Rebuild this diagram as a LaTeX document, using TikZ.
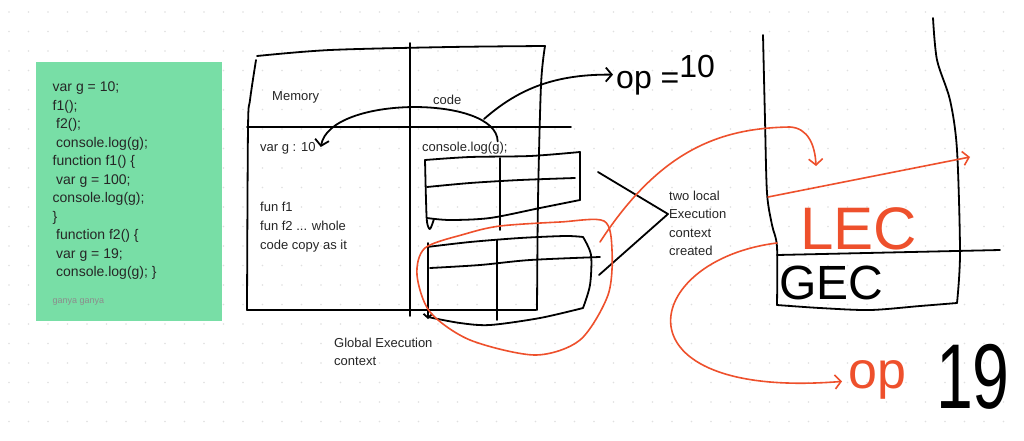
\documentclass[tikz,border=0pt]{standalone}
\usepackage{fontspec}
\setmainfont{Liberation Sans}
\usetikzlibrary{arrows.meta}
\definecolor{notegreen}{RGB}{120,222,166}
\definecolor{pen}{RGB}{238,80,44}

\begin{document}
\begin{tikzpicture}[
    x=1pt, y=-1pt,
    ink/.style={line width=1.8pt, line cap=round, line join=round},
    redink/.style={ink, draw=pen, line width=1.6pt},
    tip/.style={-{Straight Barb[length=6pt,width=14pt]}},
    txt/.style={anchor=base west, inner sep=0pt, font=\fontsize{13}{16}\selectfont, text=black!85},
    codetxt/.style={txt, font=\fontsize{14}{17}\selectfont},
    scrawl/.style={anchor=base west, inner sep=0pt},
]
\useasboundingbox (0,0) rectangle (1024,440);
\fill[white] (0,0) rectangle (1024,440);

% dotted board
\foreach \gx in {9,28.5,...,1020}
  \foreach \gy in {12,31.5,...,436}
    \fill[black!12] (\gx,\gy) circle (0.8pt);

% sticky note
\node[fill=notegreen, anchor=north west, inner sep=0pt, minimum width=186pt, minimum height=259pt] (note) at (36,62) {};
\node[codetxt] (l1) at (52.5,91) {var g = 10;};
\node[codetxt] (l2) at (52.5,110) {f1();};
\node[codetxt] (l3) at (56,128.5) {f2();};
\node[codetxt] (l4) at (56,147) {console.log(g);};
\node[codetxt] (l5) at (52.5,165.5) {function f1() \{};
\node[codetxt] (l6) at (56,184) {var g = 100;};
\node[codetxt] (l7) at (52.5,202.5) {console.log(g);};
\node[codetxt] (l8) at (52.5,221) {\}};
\node[codetxt] (l9) at (56,239.5) {function f2() \{};
\node[codetxt] (l10) at (56,258) {var g = 19;};
\node[codetxt] (l11) at (56,276.5) {console.log(g); \}};
\node[txt, font=\fontsize{9}{11}\selectfont, text=black!45] (owner) at (52.5,303) {ganya ganya};

% global execution context box
\draw[ink] plot[smooth] coordinates {(257,56) (330,50) (450,47) (545,46)};
\draw[ink] plot[smooth] coordinates {(256,60) (250,100) (248,128) (247,310)};
\draw[ink] (247,310) -- (536,310);
\draw[ink] plot[smooth] coordinates {(545,46) (541,85) (538,200) (537,310)};
\draw[ink] (410,43) -- (410,316);
\draw[ink] (247,127) -- (571,127);

\node[txt] (mem) at (272,100) {Memory};
\node[txt] (codelbl) at (433,104) {code};
\node[txt] (varg) at (260,151) {var g : 10};
\node[txt] (logline) at (422,151) {console.log(g);};
\node[txt] (funa) at (260,211) {fun f1};
\node[txt] (funb) at (260,230) {fun f2 ... whole};
\node[txt] (copyall) at (260,249) {code copy as it};
\node[txt] (glob1) at (334,347) {Global Execution};
\node[txt] (glob2) at (334,365) {context};

% first local table
\draw[ink] plot[smooth] coordinates {(425,160) (470,157) (530,156) (580,152)};
\draw[ink] (580,152) -- (580,200);
\draw[ink] plot[smooth] coordinates {(580,200) (540,208) (490,218) (450,220) (427,218)};
\draw[ink] plot[smooth] coordinates {(425,160) (426,200) (427,222) (430,229) (434,219)};
\draw[ink] plot[smooth] coordinates {(427,187) (470,183) (520,180) (575,178)};
\draw[ink] (500,158) -- (500,230);

% second local table
\draw[ink] plot[smooth] coordinates {(427,247) (470,242) (520,238) (565,236) (583,237)};
\draw[ink] plot[smooth] coordinates {(583,237) (591,255) (590,285) (583,308)};
\draw[ink] plot[smooth] coordinates {(583,308) (540,318) (490,325) (460,323) (428,317)};
\draw[ink, -{Straight Barb[length=4pt,width=9pt]}] (428,243) -- (428,319);
\draw[ink] plot[smooth] coordinates {(430,268) (480,265) (530,260) (600,257)};
\draw[ink] (497,240) -- (497,320);

% brace to the note on the right
\coordinate (brtop) at (598,172);
\coordinate (brbot) at (599,275);
\node[txt] (two1) at (669,200) {two local};
\node[txt] (two2) at (669,218) {Execution};
\node[txt] (two3) at (669,237) {context};
\node[txt] (two4) at (669,255) {created};
\draw[ink] (brtop) -- ([xshift=-1pt,yshift=4pt]two2.base west) -- (brbot);

% console.log reads g from memory
\draw[ink, tip] ([xshift=-10pt]logline.north east) .. controls (497,95) and (330,95) .. ([xshift=5pt,yshift=4pt]varg.base east);
\coordinate (fork) at (484,119);
\node[scrawl, font=\fontsize{32}{32}\selectfont] (opten) at (616,88) {op =\raisebox{11pt}{10}};
\draw[ink, tip] (fork) .. controls (515,92) and (550,74) .. ([xshift=-3pt]opten.west);

% call stack
\draw[ink] plot[smooth] coordinates {(763,35) (765,120) (767,193) (772,225) (777,247) (777,305)};
\draw[ink] plot[smooth] coordinates {(777,305) (820,308) (870,310) (920,306) (957,303)};
\draw[ink] plot[smooth] coordinates {(933,18) (937,60) (950,100) (957,150) (960,253) (957,303)};
\draw[ink] (777,255) -- (1000,250);
\node[scrawl, font=\fontsize{60}{60}\selectfont, text=pen] (lec) at (800,249) {LEC};
\node[scrawl, font=\fontsize{48}{48}\selectfont] (gec) at (779,299) {GEC};

% red pen: local context pushed and popped
\draw[redink] plot[smooth cycle] coordinates {(500,226) (560,222) (604,221) (612,250) (608,295) (580,340) (535,355) (470,340) (430,312) (417,275) (425,248) (465,234)};
\coordinate (loopfrom) at (600,242);
\coordinate (lecslot) at (816,166);
\draw[redink, tip] (loopfrom) .. controls (660,150) and (720,128) .. (790,127) .. controls (808,128) and (815,145) .. (lecslot);
\coordinate (lecleft) at (768,197);
\coordinate (lecright) at (970,157);
\draw[redink, tip] (lecleft) -- (lecright);
\node[scrawl, font=\fontsize{52}{52}\selectfont, text=pen] (opred) at (848,388) {op};
\node[scrawl, font=\fontsize{92}{92}\selectfont, xscale=0.72] (nineteen) at (936,408) {19};
\coordinate (gecleft) at (777,243);
\draw[redink, tip] (gecleft) .. controls (640,260) and (610,400) .. ([xshift=-6pt,yshift=-2pt]opred.west);

\end{tikzpicture}
\end{document}
